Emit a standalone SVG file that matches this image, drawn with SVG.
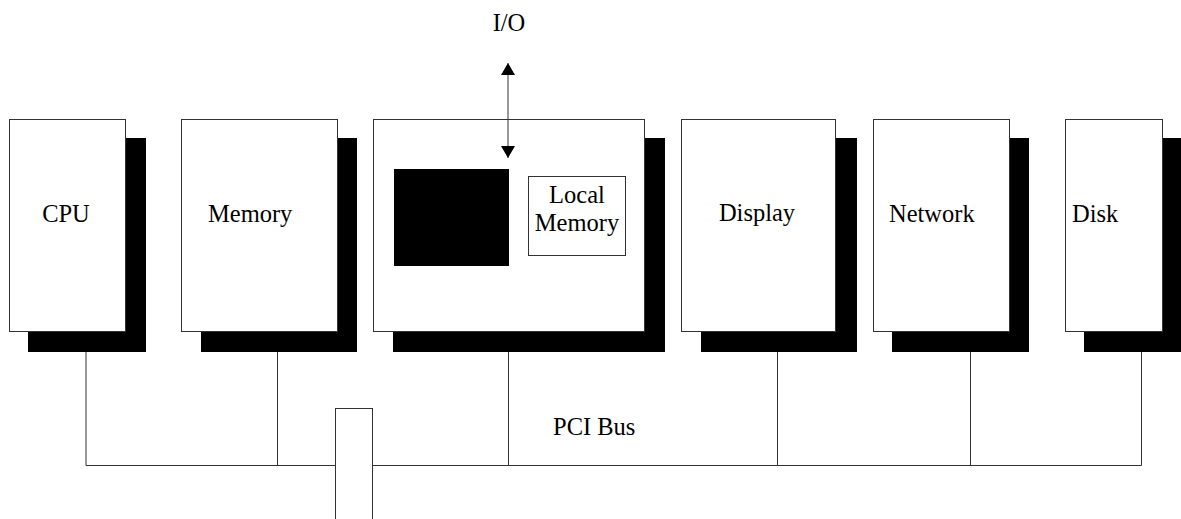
<svg xmlns="http://www.w3.org/2000/svg" width="1181" height="519" viewBox="0 0 1181 519">
<defs>
<marker id="ah" viewBox="0 0 12 14" refX="12" refY="7" markerWidth="12" markerHeight="14" markerUnits="userSpaceOnUse" orient="auto-start-reverse">
<path d="M0,0 L12,7 L0,14 Z" fill="#000"/>
</marker>
</defs>
<style>
.box{fill:#fff;stroke:#333;stroke-width:1}
.shadow{fill:#000}
.wire{fill:none;stroke:#333;stroke-width:1}
text{font-family:"Liberation Serif","Times New Roman",serif;font-size:24.5px;fill:#000}
</style>
<rect width="1181" height="519" fill="#fff"/>
<g id="cpu">
<rect class="shadow" x="28" y="138" width="118" height="214"/>
<rect class="box" x="9.5" y="119.5" width="116" height="212"/>
<text x="66" y="222" text-anchor="middle">CPU</text>
</g>
<g id="memory">
<rect class="shadow" x="201" y="138" width="156" height="214"/>
<rect class="box" x="181.5" y="119.5" width="156" height="212"/>
<text x="208" y="222">Memory</text>
</g>
<g id="io-controller">
<rect class="shadow" x="393" y="138" width="272" height="214"/>
<rect class="box" x="373.5" y="119.5" width="271" height="212"/>
<rect class="shadow" x="394" y="169" width="115" height="97"/>
<rect class="box" x="528.5" y="176.5" width="97" height="79"/>
<text x="577" y="203" text-anchor="middle">Local</text>
<text x="577" y="231" text-anchor="middle">Memory</text>
</g>
<g id="display">
<rect class="shadow" x="701" y="138" width="156" height="214"/>
<rect class="box" x="681.5" y="119.5" width="154" height="212"/>
<text x="757" y="221" text-anchor="middle">Display</text>
</g>
<g id="network">
<rect class="shadow" x="892" y="138" width="137" height="214"/>
<rect class="box" x="873.5" y="119.5" width="136" height="212"/>
<text x="889" y="222">Network</text>
</g>
<g id="disk">
<rect class="shadow" x="1084" y="138" width="100" height="214"/>
<rect class="box" x="1065.5" y="119.5" width="97" height="212"/>
<text x="1072" y="222">Disk</text>
</g>
<g id="connectors">
<polyline class="wire" points="86,352 86,465.5 1141.5,465.5 1141.5,352"/>
<line class="wire" x1="277.5" y1="352" x2="277.5" y2="465.5"/>
<line class="wire" x1="508.5" y1="352" x2="508.5" y2="465.5"/>
<line class="wire" x1="777.5" y1="352" x2="777.5" y2="465.5"/>
<line class="wire" x1="970.5" y1="352" x2="970.5" y2="465.5"/>
<line class="wire" x1="508" y1="63" x2="508" y2="158" marker-start="url(#ah)" marker-end="url(#ah)"/>
</g>
<g id="bridge">
<rect class="box" x="335.5" y="408.5" width="37" height="120"/>
</g>
<g id="labels">
<text x="509" y="31" text-anchor="middle">I/O</text>
<text x="553" y="435">PCI Bus</text>
</g>
</svg>
